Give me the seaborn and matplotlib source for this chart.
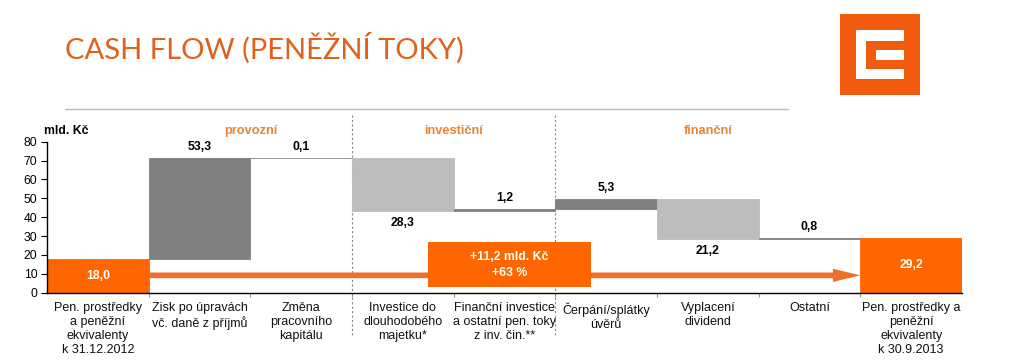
import matplotlib
matplotlib.use("Agg")
import matplotlib.pyplot as plt
from matplotlib.patches import Rectangle
from matplotlib.ticker import FixedLocator
import numpy as np
import pandas as pd
import seaborn as sns

# ---------------- data ----------------
categories = [
    "Pen. prostředky\na peněžní\nekvivalenty\nk 31.12.2012",
    "Zisk po úpravách\nvč. daně z příjmů",
    "Změna\npracovního\nkapitálu",
    "Investice do\ndlouhodobého\nmajetku*",
    "Finanční investice\na ostatní pen. toky\nz inv. čin.**",
    "Čerpání/splátky\núvěrů",
    "Vyplacení\ndividend",
    "Ostatní",
    "Pen. prostředky a\npeněžní\nekvivalenty\nk 30.9.2013",
]
values = [18.0, 53.3, 0.1, -28.3, 1.2, 5.3, -21.2, 0.8, 29.2]
kinds = ["total", "delta", "delta", "delta", "delta", "delta", "delta", "delta", "total"]
sections = ["provozní", "investiční", "finanční"]
section_centers = [1.5, 3.5, 6.0]
section_breaks = [2.5, 4.5]
change_text = "+11,2 mld. Kč\n+63 %"
y_ticks = [0, 10, 20, 30, 40, 50, 60, 70, 80]
title = "CASH FLOW (PENĚŽNÍ TOKY)"
unit = "mld. Kč"

# colours
ORANGE = "#FF6600"
ARROW = "#EF6E2A"
DARK = "#808080"
LIGHT = "#BDBDBD"
SECTION = "#EA8434"
TITLE_C = "#E0601D"

# waterfall geometry from the flows
bottoms, heights, colors = [], [], []
running = 0.0
for v, k in zip(values, kinds):
    if k == "total":
        bottoms.append(0.0); heights.append(v); colors.append(ORANGE)
        running = v
    else:
        if v >= 0:
            bottoms.append(running); heights.append(v); colors.append(DARK)
        else:
            bottoms.append(running + v); heights.append(-v); colors.append(LIGHT)
        running += v

df = pd.DataFrame({"cat": categories, "height": heights, "bottom": bottoms})

# ---------------- figure ----------------
sns.set_theme(style="white")
plt.rcParams["font.family"] = ["Liberation Sans", "DejaVu Sans"]

W, H = 1018, 363
fig = plt.figure(figsize=(W / 100, H / 100), dpi=100)
x0, x1, y0, y1 = 47, 962, 292.6, 141.7
ax = fig.add_axes([x0 / W, 1 - y0 / H, (x1 - x0) / W, (y0 - y1) / H])

sns.barplot(data=df, x="cat", y="height", order=categories, bottom=df["bottom"].values,
            color=DARK, saturation=1, width=1.0, errorbar=None, ax=ax, zorder=2)
for p, c in zip(ax.patches, colors):
    p.set_facecolor(c)
    p.set_edgecolor(c)
    p.set_linewidth(0.6)

ax.set_xlim(-0.5, len(categories) - 0.5)
ax.set_ylim(0, 80)
ax.set_xlabel("")
ax.set_ylabel("")
ax.yaxis.set_major_locator(FixedLocator(y_ticks))
ax.tick_params(axis="y", left=True, length=4, width=0.8, color="black",
               labelsize=8.8, pad=3, labelcolor="black")
ax.set_xticks(range(len(categories)))
ax.set_xticklabels(categories, fontsize=9, color="#111111", linespacing=1.2)
ax.tick_params(axis="x", which="major", length=0, pad=7)
ax.xaxis.set_minor_locator(FixedLocator(np.arange(0.5, len(categories) - 0.5, 1.0)))
ax.tick_params(axis="x", which="minor", bottom=True, length=3, width=0.8, color="#999999")
for s in ["top", "right"]:
    ax.spines[s].set_visible(False)
for s in ["left", "bottom"]:
    ax.spines[s].set_color("black")
    ax.spines[s].set_linewidth(1.0)
ax.grid(False)

# value labels
for i, (v, k) in enumerate(zip(values, kinds)):
    lab = f"{abs(v):.1f}".replace(".", ",")
    if k == "total":
        ax.text(i, v / 2, lab, ha="center", va="center", color="white",
                fontsize=8.8, fontweight="bold", zorder=6)
    elif v >= 0:
        ax.annotate(lab, (i, bottoms[i] + heights[i]), xytext=(0, 7.8),
                    textcoords="offset points", ha="center", va="center",
                    fontsize=8.8, fontweight="bold", color="black", annotation_clip=False)
    else:
        ax.annotate(lab, (i, bottoms[i]), xytext=(0, -8.6),
                    textcoords="offset points", ha="center", va="center",
                    fontsize=8.8, fontweight="bold", color="black", annotation_clip=False)

# arrow from start total to end total
ax.arrow(0.5, 9.15, 7.0, 0, width=3.0, head_width=7.0, head_length=0.27,
         length_includes_head=True, color=ARROW, lw=0, zorder=3)

# change box
ax.add_patch(Rectangle((3.25, 3.1), 1.6, 23.5, facecolor=ORANGE, edgecolor="none", zorder=4))
ax.text(4.05, 14.6, change_text, ha="center", va="center", color="white",
        fontsize=8.8, fontweight="bold", linespacing=1.45, zorder=6)

# section separators and labels
for xb in section_breaks:
    ax.plot([xb, xb], [(y0 - 335) / (y0 - y1) * 80, (y0 - 115) / (y0 - y1) * 80],
            ls=(0, (2, 2)), lw=0.8, color="#8A8A8A", clip_on=False, zorder=1)
for name, xc in zip(sections, section_centers):
    ax.text(xc, (y0 - 131) / (y0 - y1) * 80, name, ha="center", va="center",
            color=SECTION, fontsize=9.2, fontweight="bold", clip_on=False)

# unit label
fig.text(44 / W, 1 - 131.5 / H, unit, ha="left", va="center", fontsize=8.8,
         fontweight="bold", color="black")

# title and top rule
fig.text(65 / W, 1 - 48 / H, title, ha="left", va="center", fontsize=21,
         color=TITLE_C, family=["Lato", "DejaVu Sans"])
fig.add_artist(plt.Line2D([65 / W, 788 / W], [1 - 108.5 / H] * 2, color="#BBBBBB", lw=1.0))

# logo
lax = fig.add_axes([0, 0, 1, 1], zorder=-1)
lax.set_xlim(0, W)
lax.set_ylim(H, 0)
lax.axis("off")
lax.add_patch(Rectangle((840, 14), 80, 81, facecolor="#F25A0F", edgecolor="none"))
lax.add_patch(Rectangle((856, 30), 48, 49, facecolor="white", edgecolor="none"))
lax.add_patch(Rectangle((866, 41), 39, 28, facecolor="#F25A0F", edgecolor="none"))
lax.add_patch(Rectangle((876, 50), 28, 10, facecolor="white", edgecolor="none"))

fig.savefig("out.png", dpi=100, facecolor="white")
